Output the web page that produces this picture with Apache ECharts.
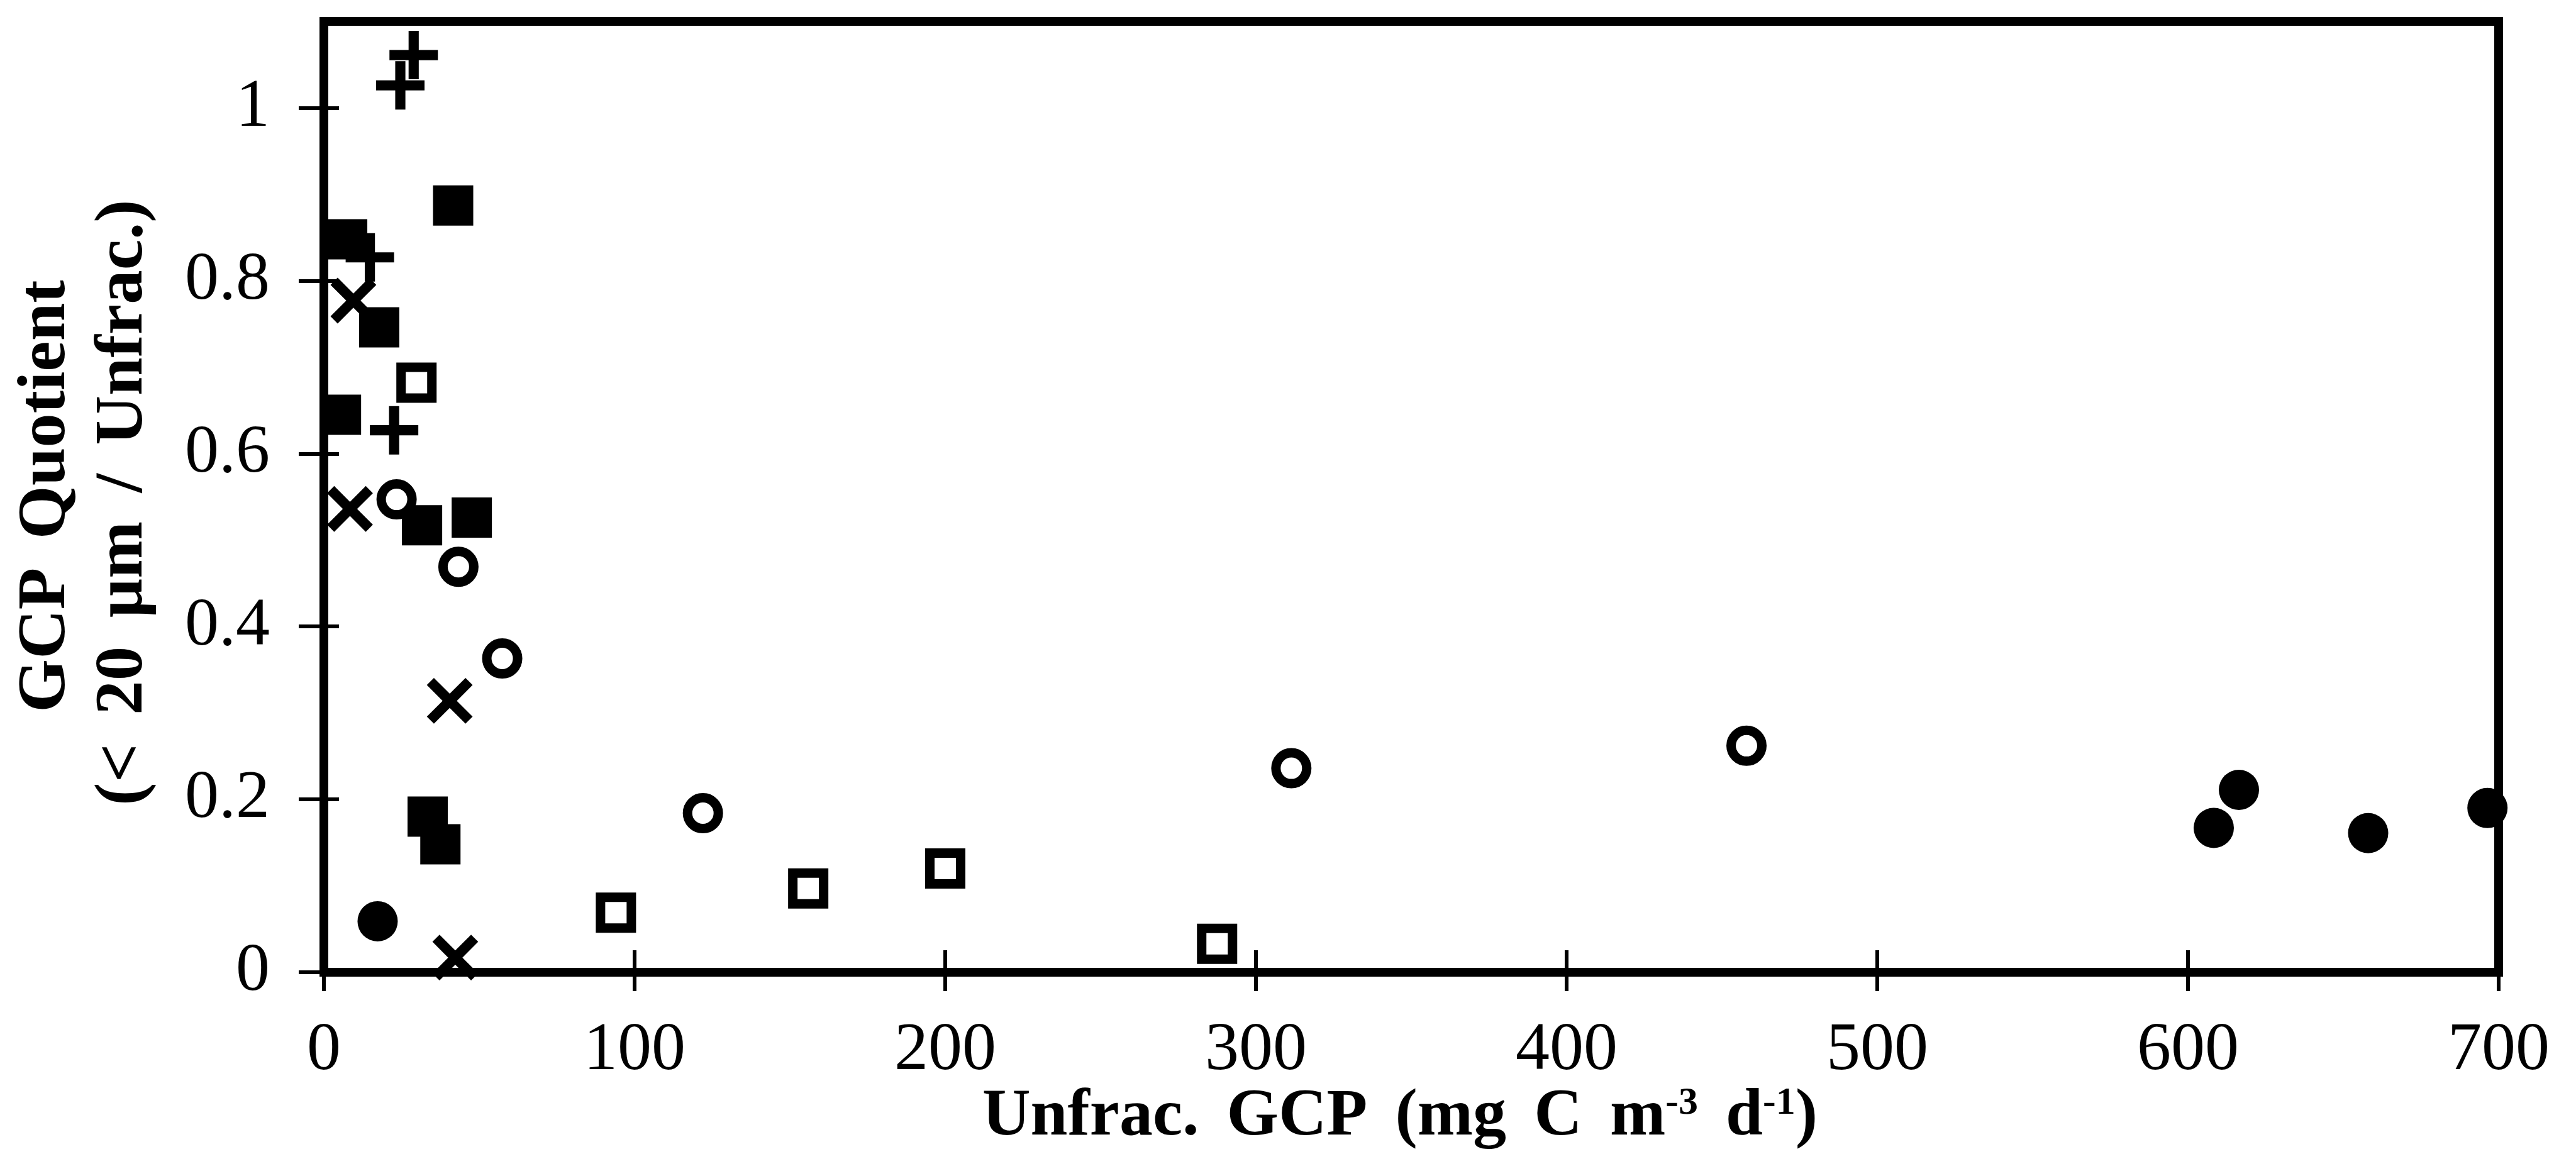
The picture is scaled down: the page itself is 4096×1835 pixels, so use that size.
<!DOCTYPE html>
<html>
<head>
<meta charset="utf-8">
<script src="https://cdn.jsdelivr.net/npm/echarts@6/dist/echarts.min.js"></script>
<style>
  html, body { margin: 0; padding: 0; background: #fff; }
  #chart { width: 4096px; height: 1835px; }
</style>
</head>
<body>
<div id="chart"></div>
<script>
// Size-fractionated gross community production:
// x = unfractionated GCP (mg C m-3 d-1), y = (< 20 µm) / unfractionated quotient
const xTicks = [0, 100, 200, 300, 400, 500, 600, 700];
const yTicks = [0, 0.2, 0.4, 0.6, 0.8, 1];

const filledSquares = [[41.6, 0.887], [7.5, 0.848], [17.8, 0.746], [5.5, 0.645],
                       [31.6, 0.517], [47.6, 0.526], [33.4, 0.180], [37.5, 0.148]];
const openSquares   = [[29.8, 0.682], [94, 0.069], [155.9, 0.097], [200, 0.120], [287.5, 0.033]];
const openCircles   = [[23.4, 0.547], [43.3, 0.469], [57.4, 0.363], [122, 0.184],
                       [311.4, 0.236], [457.9, 0.262]];
const filledCircles = [[17.3, 0.059], [608.3, 0.167], [616.4, 0.211], [658, 0.161], [696.4, 0.190]];
const plusPoints    = [[28.9, 1.061], [24.6, 1.026], [14.8, 0.827], [22.6, 0.627]];
const crossPoints   = [[9.5, 0.777], [8.4, 0.536], [40.5, 0.314], [42.3, 0.017]];

const SERIF = '"Liberation Serif", "Times New Roman", serif';
const PLUS_PATH = 'path://M39.5,0H60.5V39.5H100V60.5H60.5V100H39.5V60.5H0V39.5H39.5Z';
const CROSS_PATH = 'path://M40.8,0H59.2V40.8H100V59.2H59.2V100H40.8V59.2H0V40.8H40.8Z';

const tickStyle = { color: '#000', width: 6 };

function scatter(data, symbol, size, filled, extra) {
  return Object.assign({
    type: 'scatter',
    data: data,
    symbol: symbol,
    symbolSize: size,
    clip: false,
    silent: true,
    itemStyle: filled
      ? { color: '#000', borderWidth: 0, opacity: 1 }
      : { color: '#fff', borderColor: '#000', borderWidth: 15, opacity: 1 }
  }, extra || {});
}

const chart = echarts.init(document.getElementById('chart'), null, { renderer: 'canvas' });

chart.setOption({
  animation: false,
  backgroundColor: '#fff',
  grid: {
    left: 515, right: 123, top: 34, bottom: 289,
    show: true, borderColor: '#000', borderWidth: 14, backgroundColor: 'transparent'
  },
  xAxis: [
    {
      type: 'value', min: 0, max: 700, interval: 100, position: 'bottom',
      axisLine: { show: false }, splitLine: { show: false },
      axisTick: { show: true, inside: false, length: 30, lineStyle: tickStyle },
      axisLabel: {
        show: true, margin: 72, color: '#000', fontFamily: SERIF, fontSize: 108,
        customValues: xTicks
      }
    },
    {
      type: 'value', min: 0, max: 700, interval: 100, position: 'bottom', offset: 0,
      axisLine: { show: false }, splitLine: { show: false }, axisLabel: { show: false },
      axisTick: { show: true, inside: true, length: 35, lineStyle: tickStyle }
    }
  ],
  yAxis: [
    {
      type: 'value', min: 0, max: 1.1, interval: 0.2, position: 'left',
      axisLine: { show: false }, splitLine: { show: false },
      axisTick: { show: true, inside: false, length: 40, lineStyle: tickStyle, customValues: yTicks },
      axisLabel: {
        show: true, margin: 86, color: '#000', fontFamily: SERIF, fontSize: 108,
        customValues: yTicks, formatter: function (v) { return String(v); }
      }
    },
    {
      type: 'value', min: 0, max: 1.1, interval: 0.2, position: 'left', offset: 0,
      axisLine: { show: false }, splitLine: { show: false }, axisLabel: { show: false },
      axisTick: { show: true, inside: true, length: 24, lineStyle: tickStyle, customValues: yTicks }
    }
  ],
  series: [
    scatter(filledSquares, 'rect', 64, true),
    scatter(openSquares, 'rect', 49, false),
    scatter(openCircles, 'circle', 49, false),
    scatter(filledCircles, 'circle', 64, true),
    scatter(plusPoints, PLUS_PATH, 77, true),
    scatter(crossPoints, CROSS_PATH, 87, true, { symbolRotate: 45 })
  ],
  graphic: [
    {
      type: 'text', x: 74, y: 789, rotation: Math.PI / 2, silent: true,
      style: {
        text: 'GCP\u2006 Quotient',
        font: 'bold 109px ' + SERIF, fill: '#000',
        align: 'center', verticalAlign: 'middle',
        textAlign: 'center', textVerticalAlign: 'middle'
      }
    },
    {
      type: 'text', x: 197, y: 799, rotation: Math.PI / 2, silent: true,
      style: {
        text: '(<\u2006 20\u2006 \u00b5m\u2006 /\u2006 Unfrac.)',
        font: 'bold 109px ' + SERIF, fill: '#000',
        align: 'center', verticalAlign: 'middle',
        textAlign: 'center', textVerticalAlign: 'middle'
      }
    },
    {
      type: 'text', x: 2226, y: 1777, silent: true,
      style: {
        text: '{t|Unfrac.\u2006 GCP\u2006 (mg\u2006 C\u2006 m}{s|-3}{t|\u2006 d}{s|-1}{t|)}',
        rich: {
          t: { font: 'bold 106px ' + SERIF, fill: '#000', color: '#000' },
          s: { font: 'bold 62px ' + SERIF, fill: '#000', color: '#000', verticalAlign: 'top' }
        },
        fill: '#000',
        align: 'center', verticalAlign: 'middle',
        textAlign: 'center', textVerticalAlign: 'middle'
      }
    }
  ]
});
</script>
</body>
</html>
